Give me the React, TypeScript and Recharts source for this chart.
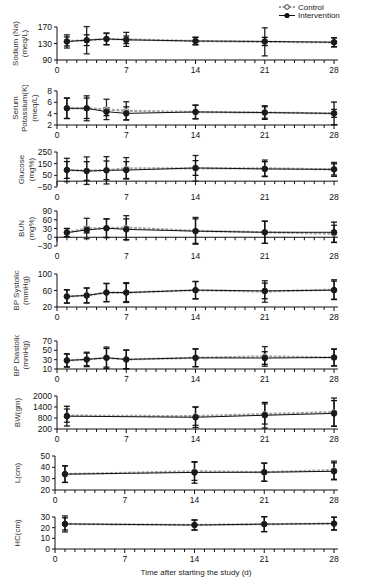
import { ErrorBar, Line, LineChart, ReferenceLine, XAxis, YAxis } from "recharts";

const studyDays = [1, 3, 5, 7, 14, 21, 28];
const growthDays = [1, 14, 21, 28];
const dayTicks = [0, 1, 2, 3, 4, 5, 6, 7, 8, 9, 10, 11, 12, 13, 14, 15, 16, 17, 18, 19, 20, 21, 22, 23, 24, 25, 26, 27, 28];

// control / intervention means and SDs
const sodiumControl = [135, 138, 141, 140, 136, 134, 133];
const sodiumControlSd = [16, 33, 14, 17, 9, 34, 11];
const sodiumInterv = [135, 138, 141, 139, 136, 135, 133];
const sodiumIntervSd = [11, 13, 14, 9, 9, 10, 11];

const potassiumControl = [4.95, 4.95, 4.75, 4.5, 4.3, 4.2, 4.05];
const potassiumControlSd = [1.8, 2.2, 1.8, 1.6, 1.2, 1.0, 0.7];
const potassiumInterv = [4.95, 4.95, 4.35, 4.05, 4.3, 4.2, 4.05];
const potassiumIntervSd = [1.8, 1.8, 0.7, 1.15, 1.2, 1.2, 2.0];

const glucoseControl = [96, 90, 93, 110, 110, 110, 101];
const glucoseControlSd = [100, 118, 117, 92, 110, 71, 60];
const glucoseInterv = [96, 87, 93, 95, 113, 105, 101];
const glucoseIntervSd = [72, 80, 80, 72, 63, 62, 48];

const bunControl = [16, 30, 31, 33, 22, 17, 12];
const bunControlSd = [14, 35, 32, 41, 46, 38, 29];
const bunInterv = [16, 25, 31, 27, 21, 17, 17];
const bunIntervSd = [14, 10, 32, 36, 42, 38, 35];

const sysControl = [45.6, 48, 55, 55, 60.8, 57.6, 62];
const sysControlSd = [16, 18, 22, 24, 21, 26, 24];
const sysInterv = [45.6, 48, 55, 55, 60.8, 59, 60.8];
const sysIntervSd = [16, 18, 22, 22, 21, 19, 22];

const diaControl = [28.4, 30.5, 34, 30.5, 34, 37, 34.7];
const diaControlSd = [14, 15.5, 23, 20, 19, 21, 18];
const diaInterv = [28.4, 30.5, 34, 30.5, 34, 33.5, 34.7];
const diaIntervSd = [14, 13.5, 20, 20, 19, 13.5, 18];

const bwControl = [930, 900, 1020, 1120];
const bwControlSd = [360, 500, 550, 770];
const bwInterv = [900, 840, 950, 1050];
const bwIntervSd = [540, 560, 700, 700];

const lengthControl = [34, 36.5, 35.7, 37.5];
const lengthControlSd = [7.3, 8, 8, 8];
const lengthInterv = [34, 35.5, 35.7, 36.5];
const lengthIntervSd = [7.3, 9.5, 8, 7.5];

const hcControl = [23.5, 22.5, 23.3, 23.8];
const hcControlSd = [7.5, 4.7, 7, 6];
const hcInterv = [23.5, 22.5, 23.3, 23.8];
const hcIntervSd = [5.7, 4.7, 7, 6];

const rows = (days: number[], c: number[], cSd: number[], i: number[], iSd: number[]) =>
  days.map((day, k) => ({
    day,
    control: c[k],
    controlSd: cSd[k],
    intervention: i[k],
    interventionSd: iSd[k],
  }));

const FONT = '"Liberation Sans", Arial, Helvetica, sans-serif';
const W = 371;
const PLOT_RIGHT = 338;
const M_TOP = 6;
const X_H = 18;

const panels = [
  { data: rows(studyDays, sodiumControl, sodiumControlSd, sodiumInterv, sodiumIntervSd), top: 27, bottom: 60, domain: [90, 170], ticks: [90, 130, 170], title: ["Sodium (Na)", "(meq/L)"], titleX: 15 },
  { data: rows(studyDays, potassiumControl, potassiumControlSd, potassiumInterv, potassiumIntervSd), top: 91, bottom: 125, domain: [2, 8], ticks: [2, 4, 6, 8], title: ["Serum", "Potassium(K)", "(meq/L)"], titleX: 15 },
  { data: rows(studyDays, glucoseControl, glucoseControlSd, glucoseInterv, glucoseIntervSd), top: 152, bottom: 187, domain: [-50, 250], ticks: [-50, 50, 150, 250], title: ["Glucose", "(mg%)"], titleX: 21.5, zero: true },
  { data: rows(studyDays, bunControl, bunControlSd, bunInterv, bunIntervSd), top: 211, bottom: 246, domain: [-30, 90], ticks: [-30, 0, 30, 60, 90], title: ["BUN", "(mg%)"], titleX: 21.5, zero: true },
  { data: rows(studyDays, sysControl, sysControlSd, sysInterv, sysIntervSd), top: 274, bottom: 307, domain: [20, 100], ticks: [20, 60, 100], title: ["BP Systolic", "(mmHg)"], titleX: 16 },
  { data: rows(studyDays, diaControl, diaControlSd, diaInterv, diaIntervSd), top: 341, bottom: 369, domain: [10, 70], ticks: [10, 30, 50, 70], title: ["BP Diastolic", "(mmHg)"], titleX: 16 },
  { data: rows(growthDays, bwControl, bwControlSd, bwInterv, bwIntervSd), top: 396, bottom: 429, domain: [200, 2000], ticks: [200, 800, 1400, 2000], title: ["BW(gm)"], titleX: 17 },
  { data: rows(growthDays, lengthControl, lengthControlSd, lengthInterv, lengthIntervSd), top: 456, bottom: 490, domain: [20, 50], ticks: [20, 30, 40, 50], title: ["L(cm)"], titleX: 17, left: 55 },
  { data: rows(growthDays, hcControl, hcControlSd, hcInterv, hcIntervSd), top: 517, bottom: 549, domain: [0, 30], ticks: [0, 10, 20, 30], title: ["HC(cm)"], titleX: 17, left: 55 },
];

const XTick = (props: any) => {
  const { x, y, payload, lift } = props;
  const axisY = y - 6 - lift;
  const major = payload.value % 7 === 0;
  return (
    <g>
      <line x1={x} x2={x} y1={axisY} y2={axisY + (major ? 4 : 3)} stroke="#111" />
      {major && (
        <text x={x} y={y + 1} dy="0.71em" textAnchor="middle" fontSize={8.5} fontFamily={FONT} fill="#111">
          {payload.value}
        </text>
      )}
    </g>
  );
};

const YTitle = ({ viewBox, lines, x0 }: any) => {
  const cy = viewBox.y + viewBox.height / 2;
  return (
    <g>
      {lines.map((t: string, i: number) => (
        <text
          key={t}
          transform={`translate(${x0 + i * 9.7},${cy}) rotate(-90)`}
          textAnchor="middle"
          dominantBaseline="central"
          fontSize={8}
          fontFamily={FONT}
          fill="#333"
        >
          {t}
        </text>
      ))}
    </g>
  );
};

const Panel = ({ p }: any) => {
  const plotH = p.bottom - p.top;
  const [lo, hi] = p.domain;
  const lift = p.zero ? ((0 - lo) / (hi - lo)) * plotH : 0;
  const left = p.left ?? 57;
  return (
    <div style={{ position: "absolute", left: 0, top: p.top - M_TOP }}>
      <LineChart
        width={W}
        height={plotH + M_TOP + X_H}
        data={p.data}
        margin={{ top: M_TOP, right: W - PLOT_RIGHT, bottom: 0, left: 0 }}
      >
        <XAxis
          type="number"
          dataKey="day"
          domain={[0, 28.4]}
          ticks={dayTicks}
          interval={0}
          allowDataOverflow
          height={X_H}
          tickSize={4}
          tickMargin={2}
          tickLine={false}
          axisLine={p.zero ? false : { stroke: "#111" }}
          tick={(props: any) => <XTick {...props} lift={lift} />}
        />
        <YAxis
          type="number"
          domain={p.domain}
          ticks={p.ticks}
          interval={0}
          allowDataOverflow
          width={left}
          tickSize={3}
          tickMargin={2}
          axisLine={{ stroke: "#111" }}
          tickLine={{ stroke: "#111" }}
          tick={{ fontSize: 8.5, fill: "#111", fontFamily: FONT }}
          tickFormatter={(v: number) => (v < 0 ? `\u2212${-v}` : `${v}`)}
          label={{ content: (lp: any) => <YTitle viewBox={lp.viewBox} lines={p.title} x0={p.titleX} /> }}
        />
        {p.zero && <ReferenceLine y={0} stroke="#111" />}
        <Line
          dataKey="control"
          stroke="#a5a5a5"
          strokeWidth={2.2}
          strokeDasharray="3 1.5"
          dot={{ r: 2.6, fill: "#bbb", stroke: "#777", strokeWidth: 1 }}
          isAnimationActive={false}
        >
          <ErrorBar dataKey="controlSd" direction="y" width={3} stroke="#222" strokeWidth={1.3} />
        </Line>
        <Line
          dataKey="intervention"
          stroke="#111"
          strokeWidth={1}
          dot={{ r: 2.8, fill: "#1a1a1a", stroke: "#1a1a1a" }}
          isAnimationActive={false}
        >
          <ErrorBar dataKey="interventionSd" direction="y" width={3} stroke="#111" strokeWidth={1.3} />
        </Line>
      </LineChart>
    </div>
  );
};

const Legend = () => (
  <svg width={96} height={22} style={{ position: "absolute", left: 277, top: 0 }}>
    <line x1={2} x2={18} y1={7} y2={7} stroke="#333" strokeDasharray="2 1.5" />
    <circle cx={10} cy={7} r={2.3} fill="#fff" stroke="#333" />
    <text x={21} y={7} dominantBaseline="central" fontSize={8} fontFamily={FONT} fill="#222">
      Control
    </text>
    <line x1={2} x2={18} y1={15.5} y2={15.5} stroke="#111" />
    <circle cx={10} cy={15.5} r={2.6} fill="#111" />
    <text x={21} y={15.5} dominantBaseline="central" fontSize={8} fontFamily={FONT} fill="#222">
      Intervention
    </text>
  </svg>
);

export default function App() {
  return (
    <div style={{ position: "absolute", left: 0, top: 0, width: W, height: 585, background: "#fff", fontFamily: FONT }}>
      <Legend />
      {panels.map((p, i) => (
        <Panel key={i} p={p} />
      ))}
      <div style={{ position: "absolute", left: 0, width: 392, top: 568, textAlign: "center", fontSize: 8, color: "#222" }}>
        Time after starting the study (d)
      </div>
    </div>
  );
}
